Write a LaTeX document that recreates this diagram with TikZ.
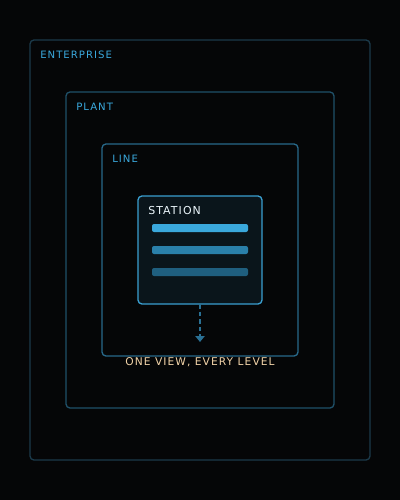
\documentclass[tikz,border=0pt]{standalone}
\usepackage{fontspec}
\newfontfamily\lblfont[LetterSpace=10]{DejaVu Sans}
\usetikzlibrary{arrows.meta}
\definecolor{bgc}{HTML}{050607}
\definecolor{entc}{HTML}{1B3A4A}
\definecolor{plantc}{HTML}{1F5068}
\definecolor{linec}{HTML}{28698A}
\definecolor{statc}{HTML}{3A9FD0}
\definecolor{statfill}{HTML}{0A151B}
\definecolor{tagc}{HTML}{3AA8DC}
\definecolor{barA}{HTML}{3AA8DC}
\definecolor{barB}{HTML}{2A80AA}
\definecolor{barC}{HTML}{1F5F7F}
\definecolor{arrc}{HTML}{2A7094}
\definecolor{capc}{HTML}{F2D3A8}
\tikzset{
  level/.style={rounded corners=3pt, line width=1pt},
  tag/.style={anchor=west, inner sep=0pt, text=tagc, font=\lblfont\fontsize{7.6pt}{9pt}\selectfont},
  bar/.style={rounded corners=1.5pt}
}
\begin{document}
\begin{tikzpicture}[x=0.75pt,y=-0.75pt]
    \fill[bgc] (0,0) rectangle (400,500);
    \useasboundingbox (0,0) rectangle (400,500);

    \draw[level, entc] (30,40) rectangle (370,460);
    \draw[level, plantc] (66,92) rectangle (334,408);
    \draw[level, linec] (102,144) rectangle (298,356);
    \draw[level, statc, fill=statfill] (138,196) rectangle (262,304);

    \node[tag] (enterprise) at (40,54.5) {ENTERPRISE};
    \node[tag] (plant) at (76,106.5) {PLANT};
    \node[tag] (line) at (112,158.5) {LINE};
    \node[tag, text=white!90!tagc, font=\lblfont\fontsize{8.2pt}{10pt}\selectfont] (station) at (148,210.5) {STATION};

    \fill[bar, barA] (152,224) rectangle (248,232);
    \fill[bar, barB] (152,246) rectangle (248,254);
    \fill[bar, barC] (152,268) rectangle (248,276);

    \coordinate (top) at (200,304);
    \coordinate (tip) at (200,342);
    \draw[line width=1.2pt, arrc, dash pattern=on 3.5pt off 2.2pt, -{Triangle[width=7pt,length=4.5pt]}] (top) -- (tip);

    \node[inner sep=0pt, text=capc, font=\lblfont\fontsize{8pt}{10pt}\selectfont] (caption) at (200,362.5) {ONE VIEW, EVERY LEVEL};
\end{tikzpicture}
\end{document}
